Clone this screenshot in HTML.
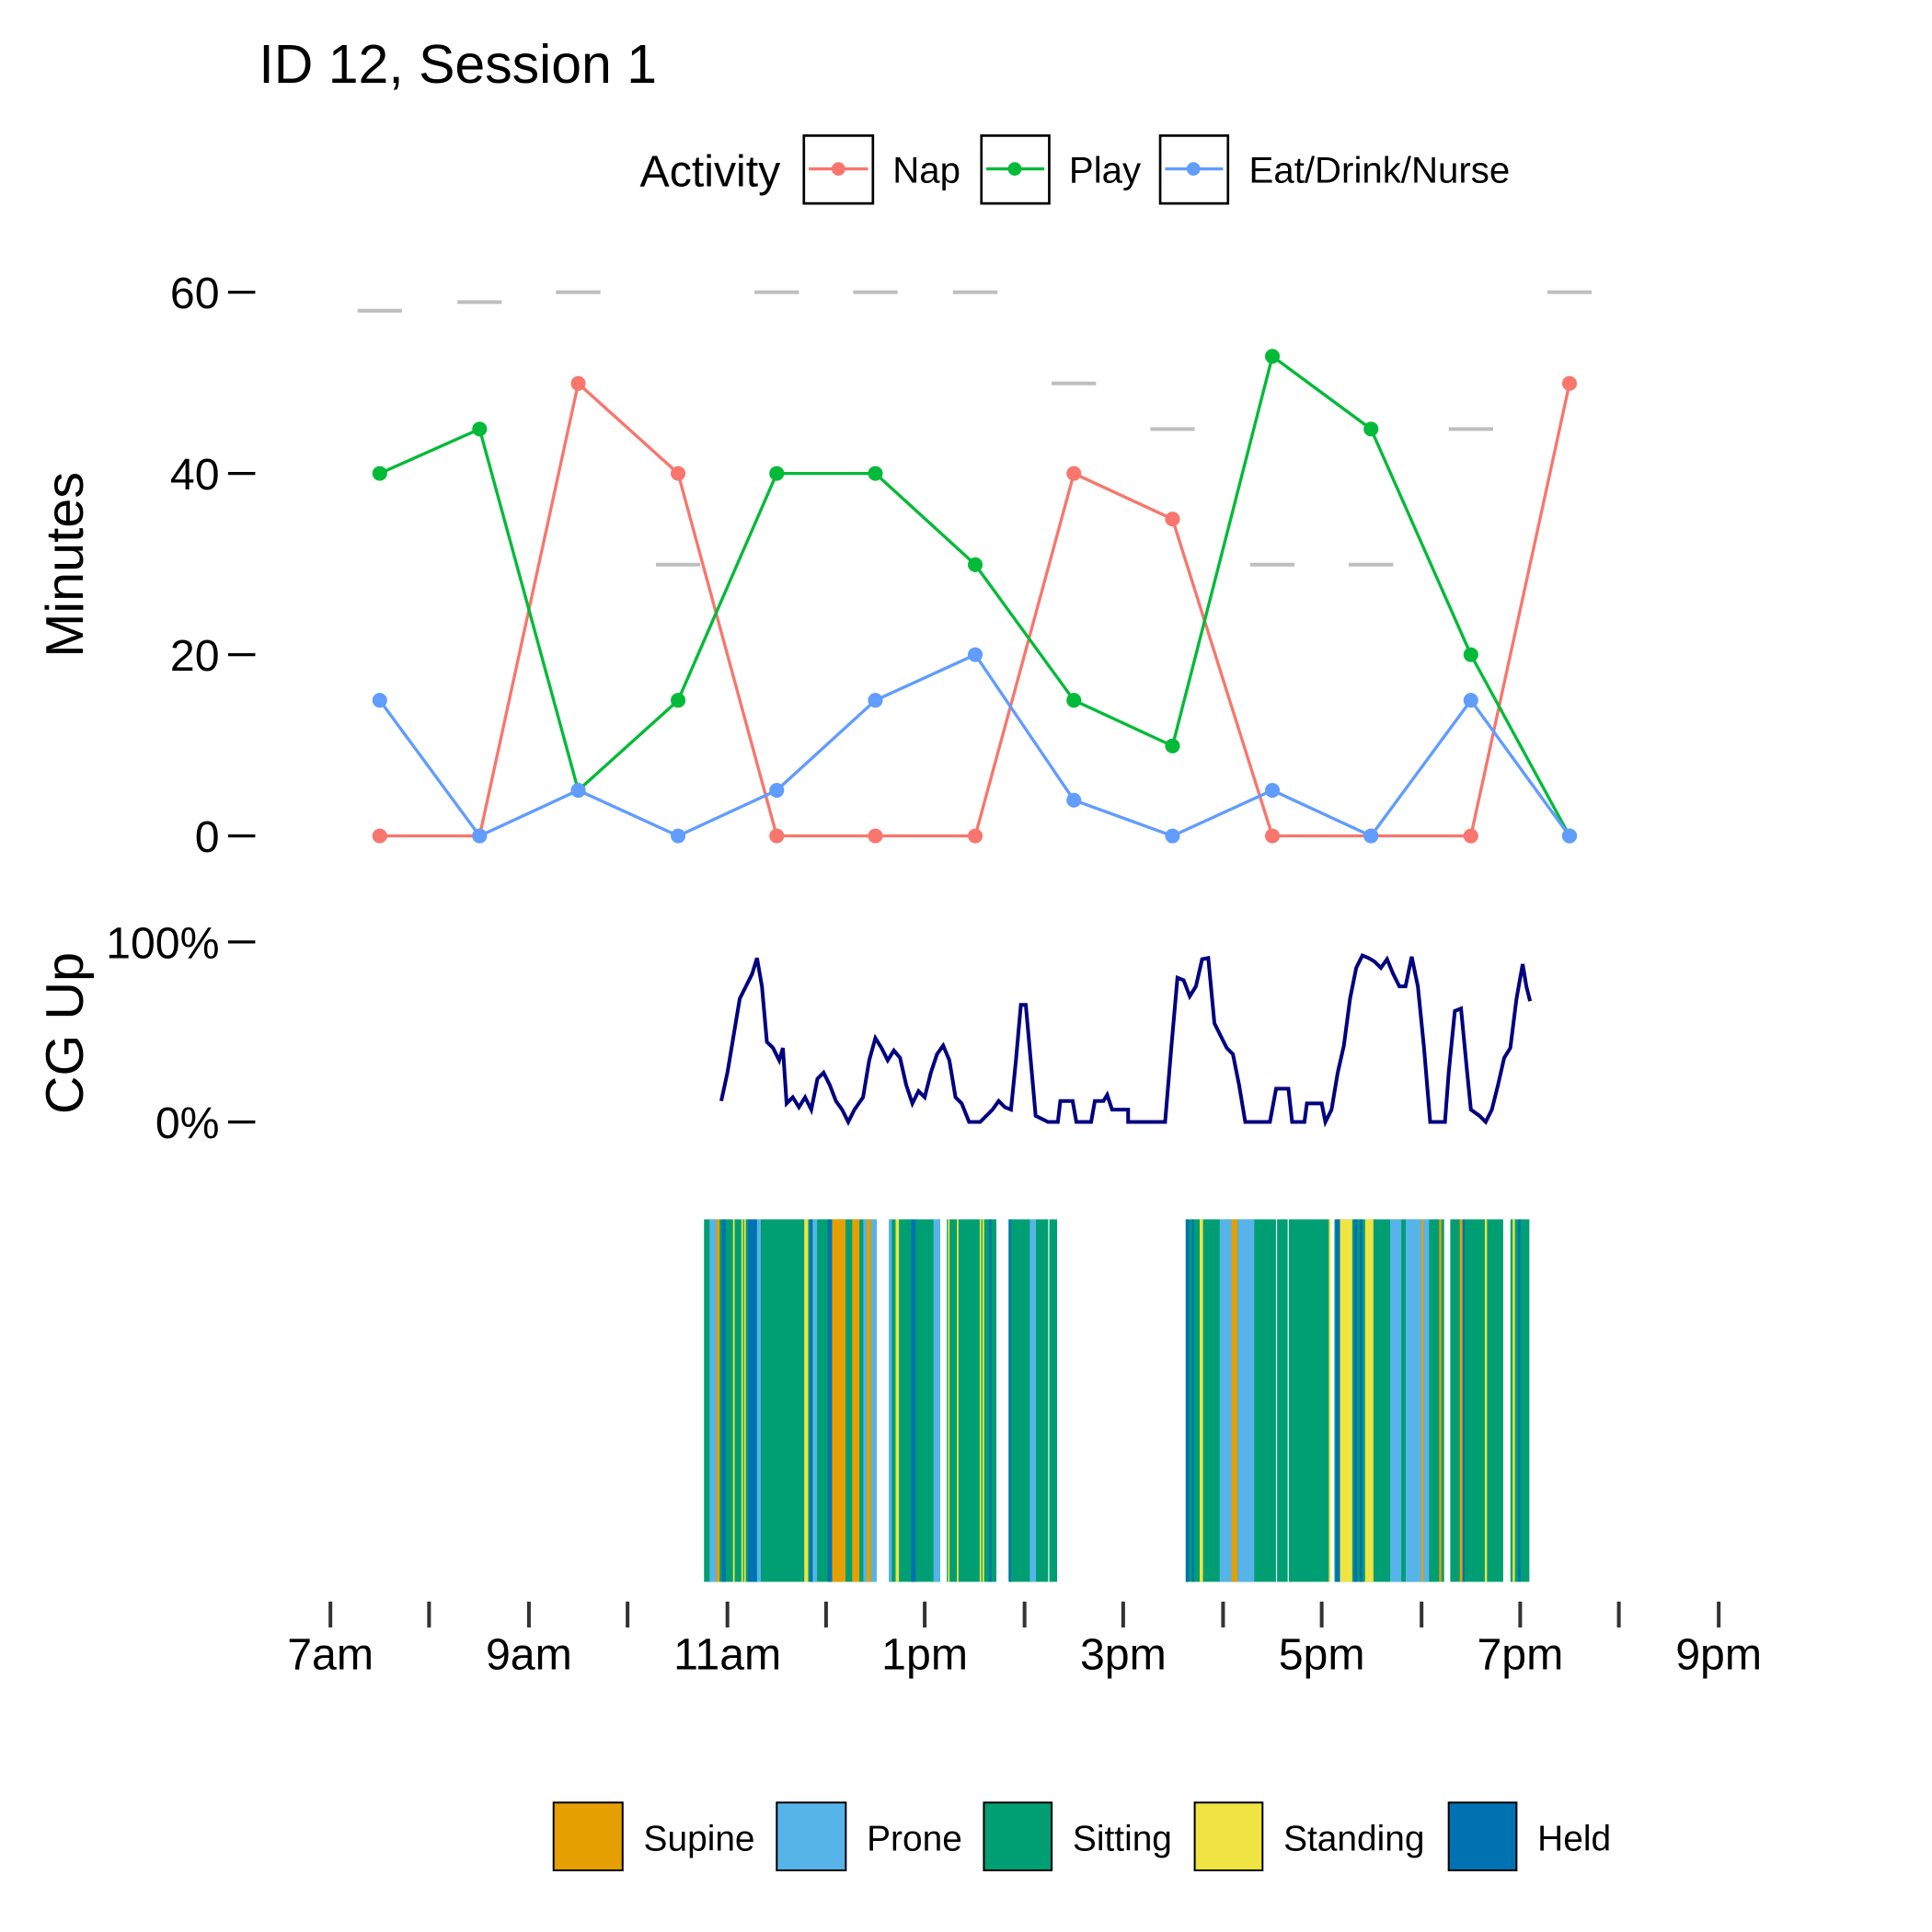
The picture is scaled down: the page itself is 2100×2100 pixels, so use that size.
<!DOCTYPE html>
<html><head><meta charset="utf-8"><style>html,body{margin:0;padding:0;background:#fff}svg{display:block}</style></head>
<body>
<svg width="2100" height="2100" viewBox="0 0 1567 1567" xmlns="http://www.w3.org/2000/svg" font-family="Liberation Sans, Arial, sans-serif">
<rect width="1567" height="1567" fill="#fff"/>
<text x="210" y="67" font-size="44">ID 12, Session 1</text>
<text x="519" y="151" font-size="36">Activity</text>
<g stroke="#000" stroke-width="2" fill="none">
<rect x="652" y="110" width="56" height="55"/><rect x="796" y="110" width="55" height="55"/><rect x="941" y="110" width="55" height="55"/></g>
<line x1="656" y1="137" x2="704" y2="137" stroke="#F8766D" stroke-width="2.5"/><circle cx="680" cy="137" r="5.5" fill="#F8766D"/>
<line x1="800" y1="137" x2="847" y2="137" stroke="#00BA38" stroke-width="2.5"/><circle cx="823" cy="137" r="5.5" fill="#00BA38"/>
<line x1="945" y1="137" x2="992" y2="137" stroke="#619CFF" stroke-width="2.5"/><circle cx="968" cy="137" r="5.5" fill="#619CFF"/>
<g font-size="30"><text x="724" y="148">Nap</text><text x="867" y="148">Play</text><text x="1013" y="148">Eat/Drink/Nurse</text></g>
<g stroke="#000" stroke-width="2.5"><line x1="185" y1="237" x2="207" y2="237"/><line x1="185" y1="384" x2="207" y2="384"/><line x1="185" y1="531" x2="207" y2="531"/><line x1="185" y1="678" x2="207" y2="678"/>
<line x1="185" y1="764" x2="207" y2="764"/><line x1="185" y1="910" x2="207" y2="910"/></g>
<g font-size="36" text-anchor="end"><text x="178" y="250">60</text><text x="178" y="397">40</text><text x="178" y="544">20</text><text x="178" y="691">0</text><text x="178" y="777">100%</text><text x="178" y="923">0%</text></g>
<text transform="translate(67,458) rotate(-90)" font-size="43" text-anchor="middle">Minutes</text>
<text transform="translate(67,838) rotate(-90)" font-size="43" text-anchor="middle">CG Up</text>
<g stroke="#bebebe" stroke-width="3">
<line x1="290" x2="326" y1="252" y2="252"/><line x1="371" x2="407" y1="245" y2="245"/><line x1="451" x2="487" y1="237" y2="237"/><line x1="532" x2="568" y1="458" y2="458"/><line x1="612" x2="648" y1="237" y2="237"/><line x1="692" x2="728" y1="237" y2="237"/><line x1="773" x2="809" y1="237" y2="237"/><line x1="853" x2="889" y1="311" y2="311"/><line x1="933" x2="969" y1="348" y2="348"/><line x1="1014" x2="1050" y1="458" y2="458"/><line x1="1094" x2="1130" y1="458" y2="458"/><line x1="1175" x2="1211" y1="348" y2="348"/><line x1="1255" x2="1291" y1="237" y2="237"/></g>
<g fill="none" stroke-width="2.5">
<polyline stroke="#F8766D" points="308,678 389,678 469,311 550,384 630,678 710,678 791,678 871,384 951,421 1032,678 1112,678 1193,678 1273,311"/>
<polyline stroke="#00BA38" points="308,384 389,348 469,641 550,568 630,384 710,384 791,458 871,568 951,605 1032,289 1112,348 1193,531 1273,678"/>
<polyline stroke="#619CFF" points="308,568 389,678 469,641 550,678 630,641 710,568 791,531 871,649 951,678 1032,641 1112,678 1193,568 1273,678"/>
</g>
<g fill="#F8766D"><circle cx="308" cy="678" r="6"/><circle cx="389" cy="678" r="6"/><circle cx="469" cy="311" r="6"/><circle cx="550" cy="384" r="6"/><circle cx="630" cy="678" r="6"/><circle cx="710" cy="678" r="6"/><circle cx="791" cy="678" r="6"/><circle cx="871" cy="384" r="6"/><circle cx="951" cy="421" r="6"/><circle cx="1032" cy="678" r="6"/><circle cx="1112" cy="678" r="6"/><circle cx="1193" cy="678" r="6"/><circle cx="1273" cy="311" r="6"/></g>
<g fill="#00BA38"><circle cx="308" cy="384" r="6"/><circle cx="389" cy="348" r="6"/><circle cx="469" cy="641" r="6"/><circle cx="550" cy="568" r="6"/><circle cx="630" cy="384" r="6"/><circle cx="710" cy="384" r="6"/><circle cx="791" cy="458" r="6"/><circle cx="871" cy="568" r="6"/><circle cx="951" cy="605" r="6"/><circle cx="1032" cy="289" r="6"/><circle cx="1112" cy="348" r="6"/><circle cx="1193" cy="531" r="6"/><circle cx="1273" cy="678" r="6"/></g>
<g fill="#619CFF"><circle cx="308" cy="568" r="6"/><circle cx="389" cy="678" r="6"/><circle cx="469" cy="641" r="6"/><circle cx="550" cy="678" r="6"/><circle cx="630" cy="641" r="6"/><circle cx="710" cy="568" r="6"/><circle cx="791" cy="531" r="6"/><circle cx="871" cy="649" r="6"/><circle cx="951" cy="678" r="6"/><circle cx="1032" cy="641" r="6"/><circle cx="1112" cy="678" r="6"/><circle cx="1193" cy="568" r="6"/><circle cx="1273" cy="678" r="6"/></g>
<polyline fill="none" stroke="#000080" stroke-width="3" points="585,893 590,870 595,840 600,810 605,800 610,790 614,777 618,800 622,845 627,850 632,860 635,850 638,895 643,890 648,898 653,890 658,900 663,875 668,870 673,880 678,893 683,900 688,910 693,900 700,890 705,860 710,842 715,850 720,860 725,852 730,858 735,880 740,895 745,885 750,890 755,870 760,855 765,848 770,860 775,890 780,895 786,910 795,910 800,905 805,900 810,893 815,898 820,900 824,860 828,815 832,815 836,860 840,905 850,910 858,910 860,893 870,893 873,910 885,910 888,893 895,893 898,888 902,900 915,900 915,910 945,910 950,850 955,793 960,795 965,808 970,800 975,778 980,777 985,830 990,840 995,850 1000,855 1005,880 1010,910 1030,910 1035,883 1045,883 1048,910 1058,910 1060,895 1072,895 1075,910 1080,900 1085,870 1090,848 1095,810 1100,785 1105,775 1110,777 1115,780 1120,785 1125,778 1130,790 1135,800 1140,800 1145,776 1150,800 1155,850 1160,910 1172,910 1175,870 1180,820 1185,818 1190,870 1193,900 1200,905 1205,910 1210,900 1215,880 1220,858 1225,850 1230,810 1235,782 1238,800 1241,812"/>
<g transform="matrix(0.4517 0 0 1 567.4 0)">
<g fill="#009E73">
<rect x="8" y="989" width="310" height="294"/><rect x="340" y="989" width="92" height="294"/><rect x="444" y="989" width="89" height="294"/><rect x="555" y="989" width="87" height="294"/>
<rect x="873" y="989" width="257" height="294"/><rect x="1140" y="989" width="197" height="294"/><rect x="1348" y="989" width="95" height="294"/><rect x="1456" y="989" width="34" height="294"/></g>
<g fill="#56B4E9"><rect x="18" y="989" width="12" height="294"/><rect x="103" y="989" width="7" height="294"/><rect x="203" y="989" width="8" height="294"/><rect x="294" y="989" width="6" height="294"/><rect x="308" y="989" width="10" height="294"/><rect x="340" y="989" width="5" height="294"/><rect x="420" y="989" width="12" height="294"/><rect x="593" y="989" width="11" height="294"/><rect x="934" y="989" width="21" height="294"/><rect x="966" y="989" width="30" height="294"/><rect x="1240" y="989" width="20" height="294"/><rect x="1268" y="989" width="42" height="294"/></g>
<g fill="#E69F00"><rect x="30" y="989" width="6" height="294"/><rect x="238" y="989" width="24" height="294"/><rect x="274" y="989" width="13" height="294"/><rect x="300" y="989" width="8" height="294"/><rect x="955" y="989" width="11" height="294"/><rect x="1296" y="989" width="4" height="294"/><rect x="1328" y="989" width="4" height="294"/><rect x="1365" y="989" width="5" height="294"/></g>
<g fill="#0072B2"><rect x="40" y="989" width="7" height="294"/><rect x="87" y="989" width="16" height="294"/><rect x="198" y="989" width="5" height="294"/><rect x="230" y="989" width="8" height="294"/><rect x="380" y="989" width="8" height="294"/><rect x="520" y="989" width="4" height="294"/><rect x="555" y="989" width="4" height="294"/><rect x="873" y="989" width="6" height="294"/><rect x="884" y="989" width="4" height="294"/><rect x="1142" y="989" width="8" height="294"/><rect x="1175" y="989" width="6" height="294"/><rect x="1185" y="989" width="5" height="294"/><rect x="1370" y="989" width="4" height="294"/><rect x="1470" y="989" width="4" height="294"/></g>
<g fill="#F0E442"><rect x="60" y="989" width="3" height="294"/><rect x="75" y="989" width="3" height="294"/><rect x="80" y="989" width="3" height="294"/><rect x="188" y="989" width="7" height="294"/><rect x="352" y="989" width="6" height="294"/><rect x="446" y="989" width="3" height="294"/><rect x="462" y="989" width="3" height="294"/><rect x="503" y="989" width="3" height="294"/><rect x="508" y="989" width="3" height="294"/><rect x="898" y="989" width="6" height="294"/><rect x="1130" y="989" width="3" height="294"/><rect x="1150" y="989" width="22" height="294"/><rect x="1195" y="989" width="15" height="294"/><rect x="1410" y="989" width="4" height="294"/><rect x="1460" y="989" width="4" height="294"/></g>
<g fill="#fff"><rect x="1035" y="989" width="2" height="294"/><rect x="1056" y="989" width="2" height="294"/><rect x="626" y="989" width="2" height="294"/></g>
</g>
<g stroke="#333" stroke-width="3">
<line x1="268" x2="268" y1="1299" y2="1320"/><line x1="348" x2="348" y1="1299" y2="1320"/><line x1="429" x2="429" y1="1299" y2="1320"/><line x1="509" x2="509" y1="1299" y2="1320"/><line x1="590" x2="590" y1="1299" y2="1320"/><line x1="670" x2="670" y1="1299" y2="1320"/><line x1="750" x2="750" y1="1299" y2="1320"/><line x1="831" x2="831" y1="1299" y2="1320"/><line x1="911" x2="911" y1="1299" y2="1320"/><line x1="992" x2="992" y1="1299" y2="1320"/><line x1="1072" x2="1072" y1="1299" y2="1320"/><line x1="1153" x2="1153" y1="1299" y2="1320"/><line x1="1233" x2="1233" y1="1299" y2="1320"/><line x1="1313" x2="1313" y1="1299" y2="1320"/><line x1="1394" x2="1394" y1="1299" y2="1320"/></g>
<g font-size="36" text-anchor="middle"><text x="268" y="1354">7am</text><text x="429" y="1354">9am</text><text x="590" y="1354">11am</text><text x="750" y="1354">1pm</text><text x="911" y="1354">3pm</text><text x="1072" y="1354">5pm</text><text x="1233" y="1354">7pm</text><text x="1394" y="1354">9pm</text></g>
<g stroke="#000" stroke-width="1.5">
<rect x="449" y="1462" width="56" height="55" fill="#E69F00"/><rect x="630" y="1462" width="56" height="55" fill="#56B4E9"/><rect x="798" y="1462" width="55" height="55" fill="#009E73"/><rect x="969" y="1462" width="55" height="55" fill="#F0E442"/><rect x="1175" y="1462" width="55" height="55" fill="#0072B2"/></g>
<g font-size="29"><text x="522" y="1501">Supine</text><text x="703" y="1501">Prone</text><text x="870" y="1501">Sitting</text><text x="1041" y="1501">Standing</text><text x="1247" y="1501">Held</text></g>
</svg>
</body></html>
